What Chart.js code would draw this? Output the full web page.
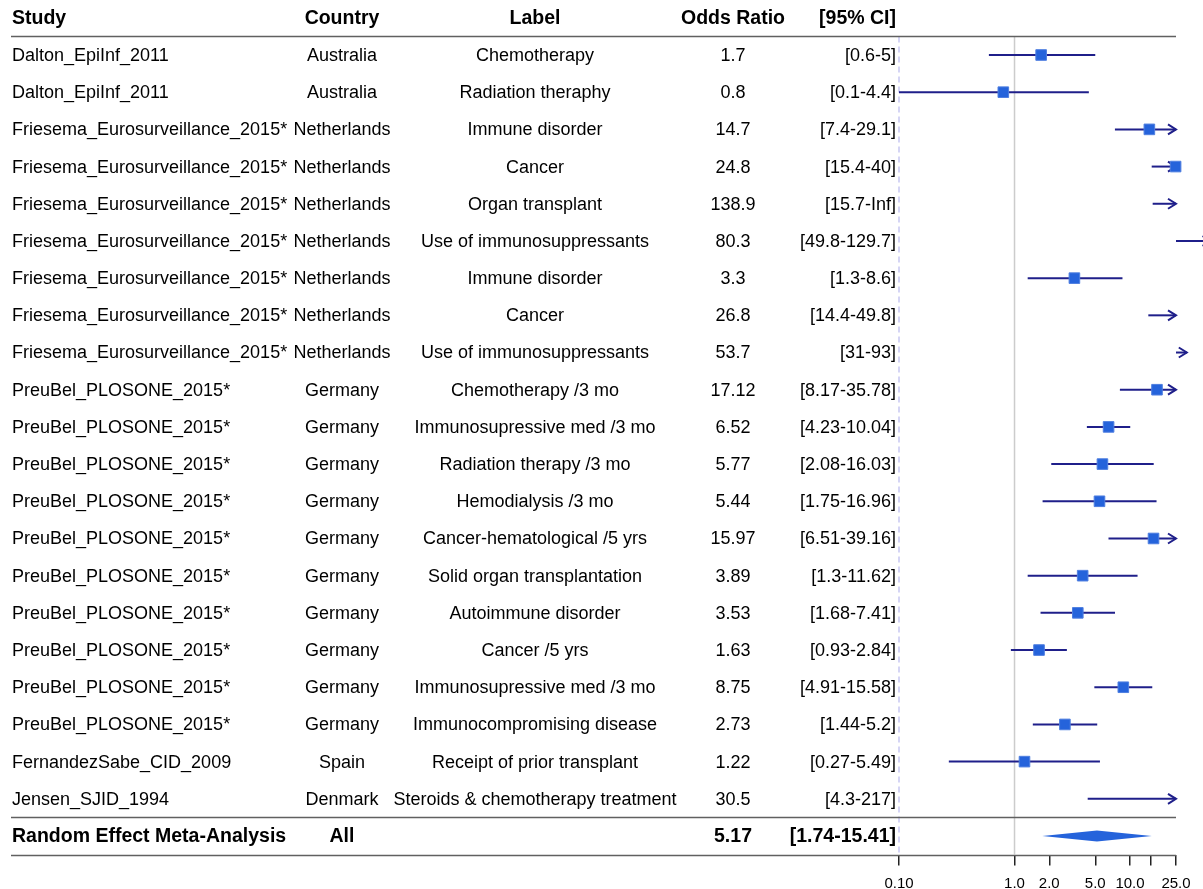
<!DOCTYPE html>
<html>
<head>
<meta charset="utf-8">
<script src="https://cdn.jsdelivr.net/npm/chart.js@4"></script>
<style>
  body { margin: 0; background: #fff; }
  #wrap { width: 1203px; height: 889px; position: relative; }
</style>
</head>
<body>
<div id="wrap"><canvas id="forestChart"></canvas></div>
<script>
// table columns
var studies = [
    'Dalton_EpiInf_2011', 'Dalton_EpiInf_2011',
    'Friesema_Eurosurveillance_2015*', 'Friesema_Eurosurveillance_2015*', 'Friesema_Eurosurveillance_2015*',
    'Friesema_Eurosurveillance_2015*', 'Friesema_Eurosurveillance_2015*', 'Friesema_Eurosurveillance_2015*',
    'Friesema_Eurosurveillance_2015*',
    'PreuBel_PLOSONE_2015*', 'PreuBel_PLOSONE_2015*', 'PreuBel_PLOSONE_2015*', 'PreuBel_PLOSONE_2015*',
    'PreuBel_PLOSONE_2015*', 'PreuBel_PLOSONE_2015*', 'PreuBel_PLOSONE_2015*', 'PreuBel_PLOSONE_2015*',
    'PreuBel_PLOSONE_2015*', 'PreuBel_PLOSONE_2015*',
    'FernandezSabe_CID_2009', 'Jensen_SJID_1994'
];
var countries = [
    'Australia', 'Australia',
    'Netherlands', 'Netherlands', 'Netherlands', 'Netherlands', 'Netherlands', 'Netherlands', 'Netherlands',
    'Germany', 'Germany', 'Germany', 'Germany', 'Germany', 'Germany', 'Germany', 'Germany', 'Germany', 'Germany',
    'Spain', 'Denmark'
];
var labels = [
    'Chemotherapy', 'Radiation theraphy',
    'Immune disorder', 'Cancer', 'Organ transplant', 'Use of immunosuppressants',
    'Immune disorder', 'Cancer', 'Use of immunosuppressants',
    'Chemotherapy /3 mo', 'Immunosupressive med /3 mo', 'Radiation therapy /3 mo', 'Hemodialysis /3 mo',
    'Cancer-hematological /5 yrs', 'Solid organ transplantation', 'Autoimmune disorder', 'Cancer /5 yrs',
    'Immunosupressive med /3 mo', 'Immunocompromising disease',
    'Receipt of prior transplant', 'Steroids & chemotherapy treatment'
];

// odds ratios and 95% CI bounds
var oddsRatio = [1.7, 0.8, 14.7, 24.8, 138.9, 80.3, 3.3, 26.8, 53.7, 17.12, 6.52, 5.77, 5.44, 15.97, 3.89, 3.53, 1.63, 8.75, 2.73, 1.22, 30.5];
var ciLow = [0.6, 0.1, 7.4, 15.4, 15.7, 49.8, 1.3, 14.4, 31, 8.17, 4.23, 2.08, 1.75, 6.51, 1.3, 1.68, 0.93, 4.91, 1.44, 0.27, 4.3];
var ciHigh = [5, 4.4, 29.1, 40, Infinity, 129.7, 8.6, 49.8, 93, 35.78, 10.04, 16.03, 16.96, 39.16, 11.62, 7.41, 2.84, 15.58, 5.2, 5.49, 217];

// pooled estimate
var pooledLabel = 'Random Effect Meta-Analysis';
var pooledCountry = 'All';
var pooledOR = 5.17;
var pooledLow = 1.74;
var pooledHigh = 15.41;

// x axis
var tickValues = [0.1, 1, 2, 5, 10, 15, 25];
var tickLabels = ['0.10', '1.0', '2.0', '5.0', '10.0', '', '25.0'];
var clipLo = 0.1, clipHi = 25;

var FONT = '"Liberation Sans", Arial, Helvetica, sans-serif';
var BLUE = '#2563db';
var NAVY = '#1f1f8a';
var RULE = '#606060';
var summaryRow = studies.length;

var colStudy = 12, colCountry = 342, colLabel = 535, colOR = 733, colCI = 896;

function fmt(v) {
    return v === Infinity ? 'Inf' : String(v);
}

function arrowHead(ctx, x, y, dir) {
    ctx.beginPath();
    ctx.moveTo(x - dir * 8, y - 5);
    ctx.lineTo(x, y);
    ctx.lineTo(x - dir * 8, y + 5);
    ctx.stroke();
}

// table text, rules, CI lines and diamond
var forestPlugin = {
    id: 'forestPlugin',
    beforeDatasetsDraw(chart) {
        var ctx = chart.ctx;
        var xs = chart.scales.x, ys = chart.scales.y;
        var area = chart.chartArea;
        var xRight = xs.getPixelForValue(clipHi);
        ctx.save();

        // reference lines
        ctx.strokeStyle = '#cccccc';
        ctx.lineWidth = 1.5;
        ctx.beginPath();
        ctx.moveTo(xs.getPixelForValue(1), area.top);
        ctx.lineTo(xs.getPixelForValue(1), area.bottom);
        ctx.stroke();

        ctx.strokeStyle = '#c8c8f2';
        ctx.setLineDash([6, 4]);
        ctx.beginPath();
        ctx.moveTo(xs.getPixelForValue(clipLo), area.top);
        ctx.lineTo(xs.getPixelForValue(clipLo), area.bottom);
        ctx.stroke();
        ctx.setLineDash([]);

        // table rules
        ctx.strokeStyle = RULE;
        ctx.lineWidth = 1.5;
        [-0.5, summaryRow - 0.5, summaryRow + 0.5].forEach(function (r) {
            var y = Math.round(ys.getPixelForValue(r)) + 0.5;
            ctx.beginPath();
            ctx.moveTo(11, y);
            ctx.lineTo(xRight, y);
            ctx.stroke();
        });

        // header and rows
        ctx.fillStyle = '#000';
        ctx.textBaseline = 'middle';
        function row(r, cells, bold) {
            var y = ys.getPixelForValue(r) + 1;
            ctx.font = bold ? 'bold 19.5px ' + FONT : '18px ' + FONT;
            ctx.textAlign = 'left';   ctx.fillText(cells[0], colStudy, y);
            ctx.textAlign = 'center'; ctx.fillText(cells[1], colCountry, y);
            ctx.fillText(cells[2], colLabel, y);
            ctx.fillText(cells[3], colOR, y);
            ctx.textAlign = 'right';  ctx.fillText(cells[4], colCI, y);
        }
        row(-1, ['Study', 'Country', 'Label', 'Odds Ratio', '[95% CI]'], true);
        studies.forEach(function (s, i) {
            row(i, [s, countries[i], labels[i], fmt(oddsRatio[i]),
                '[' + fmt(ciLow[i]) + '-' + fmt(ciHigh[i]) + ']'], false);
        });
        row(summaryRow, [pooledLabel, pooledCountry, '', fmt(pooledOR),
            '[' + fmt(pooledLow) + '-' + fmt(pooledHigh) + ']'], true);

        // confidence intervals, clipped with arrows
        ctx.strokeStyle = NAVY;
        ctx.lineWidth = 2;
        ciLow.forEach(function (lo, i) {
            var hi = ciHigh[i];
            var y = ys.getPixelForValue(i);
            var x1, x2, rightArrow = false, leftArrow = false;
            if (lo > clipHi) {
                x1 = xRight;
                x2 = xs.getPixelForValue(lo);
                rightArrow = true;
            } else {
                x1 = xs.getPixelForValue(Math.max(lo, clipLo));
                x2 = xs.getPixelForValue(Math.min(hi, clipHi));
                rightArrow = hi > clipHi;
                leftArrow = lo < clipLo;
            }
            ctx.beginPath();
            ctx.moveTo(x1, y);
            ctx.lineTo(x2, y);
            ctx.stroke();
            if (rightArrow) arrowHead(ctx, x2, y, 1);
            if (leftArrow) arrowHead(ctx, x1, y, -1);
        });

        // pooled diamond
        var yd = ys.getPixelForValue(summaryRow);
        ctx.fillStyle = BLUE;
        ctx.beginPath();
        ctx.moveTo(xs.getPixelForValue(pooledLow), yd);
        ctx.lineTo(xs.getPixelForValue(pooledOR), yd - 5.5);
        ctx.lineTo(xs.getPixelForValue(pooledHigh), yd);
        ctx.lineTo(xs.getPixelForValue(pooledOR), yd + 5.5);
        ctx.closePath();
        ctx.fill();

        ctx.restore();
    }
};

var ctx = document.getElementById('forestChart').getContext('2d');
var forestChart = new Chart(ctx, {
    type: 'scatter',
    data: {
        datasets: [{
            label: 'Odds Ratio',
            data: oddsRatio.map(function (v, i) { return { x: v, y: i }; }),
            pointStyle: 'rect',
            pointRadius: function (c) { return c.raw && c.raw.x > clipHi ? 0 : 7.5; },
            pointHoverRadius: function (c) { return c.raw && c.raw.x > clipHi ? 0 : 7.5; },
            backgroundColor: BLUE,
            borderColor: '#4f7fe0',
            borderWidth: 1,
            clip: false
        }]
    },
    options: {
        responsive: true,
        maintainAspectRatio: false,
        animation: false,
        events: [],
        layout: {
            padding: { top: 36.4, left: 899, right: 27, bottom: 0 }
        },
        plugins: {
            legend: { display: false },
            tooltip: { enabled: false }
        },
        scales: {
            x: {
                type: 'logarithmic',
                position: 'bottom',
                min: clipLo,
                max: clipHi,
                afterBuildTicks: function (scale) {
                    scale.ticks = tickValues.map(function (v) { return { value: v }; });
                },
                afterFit: function (scale) {
                    scale.height = 34.4;
                },
                border: { display: false },
                grid: {
                    drawOnChartArea: false,
                    drawTicks: true,
                    tickLength: 11,
                    tickColor: '#222',
                    lineWidth: 1.5
                },
                ticks: {
                    autoSkip: false,
                    maxRotation: 0,
                    padding: 9,
                    color: '#000',
                    font: { family: FONT, size: 15 },
                    callback: function (value, index) { return tickLabels[index]; }
                }
            },
            y: {
                type: 'linear',
                display: false,
                reverse: true,
                min: -0.5,
                max: summaryRow + 0.5
            }
        }
    },
    plugins: [forestPlugin]
});
</script>
</body>
</html>
